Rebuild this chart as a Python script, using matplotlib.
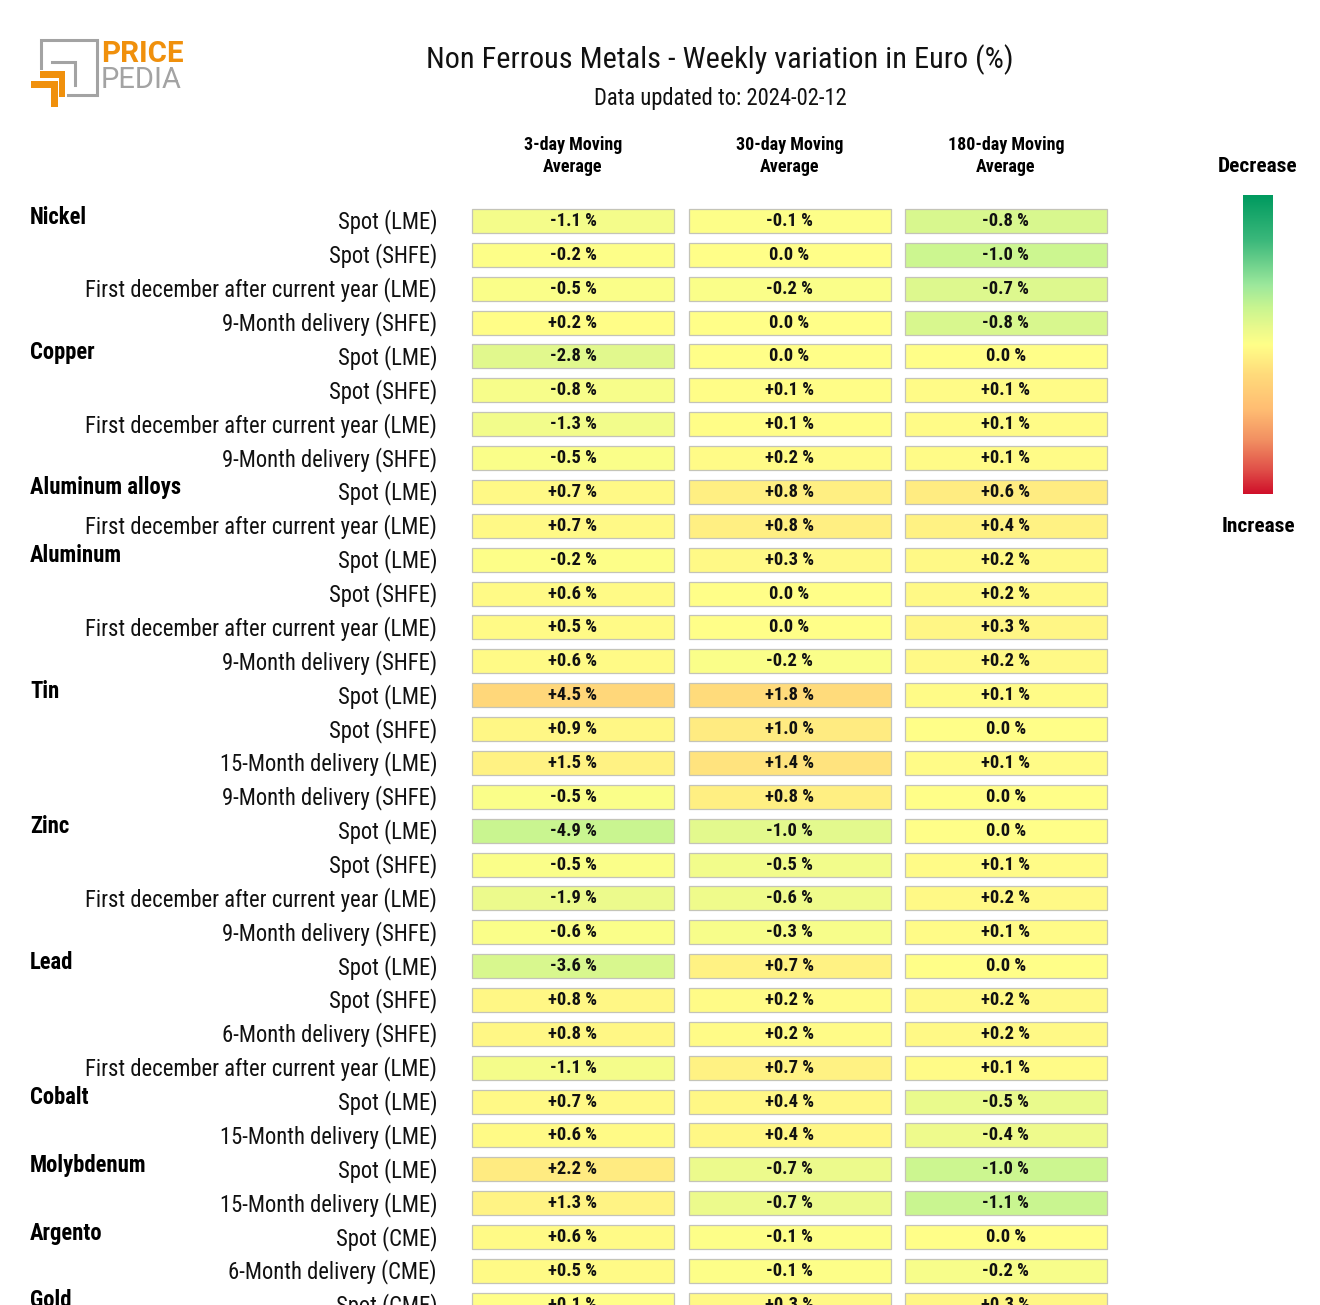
import numpy as np
import matplotlib
matplotlib.use("Agg")
import matplotlib.pyplot as plt
from matplotlib.colors import LinearSegmentedColormap, TwoSlopeNorm
from matplotlib.patches import Rectangle

# Data
groups = ["Nickel", "Copper", "Aluminum alloys", "Aluminum", "Tin", "Zinc",
          "Lead", "Cobalt", "Molybdenum", "Argento", "Gold"]
group_sizes = [4, 4, 2, 4, 4, 4, 4, 2, 2, 2, 1]

first_dec = "First december after current year (LME)"
row_labels = [
    "Spot (LME)", "Spot (SHFE)", first_dec, "9-Month delivery (SHFE)",
    "Spot (LME)", "Spot (SHFE)", first_dec, "9-Month delivery (SHFE)",
    "Spot (LME)", first_dec,
    "Spot (LME)", "Spot (SHFE)", first_dec, "9-Month delivery (SHFE)",
    "Spot (LME)", "Spot (SHFE)", "15-Month delivery (LME)", "9-Month delivery (SHFE)",
    "Spot (LME)", "Spot (SHFE)", first_dec, "9-Month delivery (SHFE)",
    "Spot (LME)", "Spot (SHFE)", "6-Month delivery (SHFE)", first_dec,
    "Spot (LME)", "15-Month delivery (LME)",
    "Spot (LME)", "15-Month delivery (LME)",
    "Spot (CME)", "6-Month delivery (CME)",
    "Spot (CME)",
]

col_titles = ["3-day Moving\nAverage", "30-day Moving\nAverage", "180-day Moving\nAverage"]

ma3 = [-1.1, -0.2, -0.5, 0.2, -2.8, -0.8, -1.3, -0.5, 0.7, 0.7, -0.2, 0.6, 0.5, 0.6,
       4.5, 0.9, 1.5, -0.5, -4.9, -0.5, -1.9, -0.6, -3.6, 0.8, 0.8, -1.1, 0.7, 0.6,
       2.2, 1.3, 0.6, 0.5, 0.1]
ma30 = [-0.1, 0.0, -0.2, 0.0, 0.0, 0.1, 0.1, 0.2, 0.8, 0.8, 0.3, 0.0, 0.0, -0.2,
        1.8, 1.0, 1.4, 0.8, -1.0, -0.5, -0.6, -0.3, 0.7, 0.2, 0.2, 0.7, 0.4, 0.4,
        -0.7, -0.7, -0.1, -0.1, 0.3]
ma180 = [-0.8, -1.0, -0.7, -0.8, 0.0, 0.1, 0.1, 0.1, 0.6, 0.4, 0.2, 0.2, 0.3, 0.2,
         0.1, 0.0, 0.1, 0.0, 0.0, 0.1, 0.2, 0.1, 0.0, 0.2, 0.2, 0.1, -0.5, -0.4,
         -1.0, -1.1, 0.0, -0.2, 0.3]

FONT = ["Roboto Condensed", "Liberation Sans Narrow", "Roboto", "DejaVu Sans"]
plt.rcParams["font.family"] = FONT

# green (decrease) -> yellow -> red (increase)
cmap = LinearSegmentedColormap.from_list("pp", [
    (0.00, "#009a5f"), (0.15, "#3bb87b"), (0.30, "#9ce89c"), (0.375, "#c8f590"),
    (0.45, "#ecfa8c"), (0.50, "#ffff88"), (0.60, "#ffdb7b"), (0.72, "#ffbc72"),
    (0.82, "#f29062"), (0.92, "#e05049"), (1.00, "#d0102a")])


def pt(px):
    return px / 1.389


fig = plt.figure(figsize=(13.2, 13.05), dpi=100)
ax = fig.add_axes([0, 0, 1, 1])
ax.set_xlim(0, 1320)
ax.set_ylim(1305, 0)
ax.axis("off")

# layout
y0, pitch, cell_h, cell_w = 221, 33.87, 24, 202
col_x = [472, 688.5, 905]

# title
ax.text(720, 60, "Non Ferrous Metals - Weekly variation in Euro (%)", fontsize=pt(30.3),
        ha="center", va="center", color="#111111")
ax.text(720, 99, "Data updated to: 2024-02-12", fontsize=pt(22.6),
        ha="center", va="center", color="#111111")

# logo
gray, orange = "#a3a3a3", "#f0900c"
ax.plot([41, 41, 96.5, 96.5, 68], [68, 39.5, 39.5, 95, 95], color=gray, lw=2.2,
        solid_joinstyle="miter")
ax.plot([52, 75, 75], [61.5, 61.5, 85], color=gray, lw=2.2, solid_joinstyle="miter")
ax.add_patch(Rectangle((40, 71), 25, 6.5, color=orange, lw=0))
ax.add_patch(Rectangle((59, 71), 6, 26, color=orange, lw=0))
ax.add_patch(Rectangle((31, 81), 26.5, 6.5, color=orange, lw=0))
ax.add_patch(Rectangle((50.5, 81), 7, 26, color=orange, lw=0))
ax.text(101, 54, "PRICE", fontsize=pt(29.5), fontweight="bold", color=orange,
        ha="left", va="center", family=["Roboto", "DejaVu Sans"])
ax.text(101, 80, "PEDIA", fontsize=pt(29), color=gray,
        ha="left", va="center", family=["Roboto", "DejaVu Sans"])

# column headers
for cx, t in zip(col_x, col_titles):
    ax.text(cx + cell_w / 2, 156, t, fontsize=pt(18), fontweight="bold",
            ha="center", va="center", linespacing=1.22)

# group labels
start = 0
for g, n in zip(groups, group_sizes):
    ax.text(30, y0 + start * pitch - 4, g, fontsize=pt(22.7), fontweight="bold",
            ha="left", va="center")
    start += n

# row labels and cells
cols = [np.array(ma3), np.array(ma30), np.array(ma180)]
for i, lab in enumerate(row_labels):
    yc = y0 + i * pitch
    ax.text(437, yc + 1, lab, fontsize=pt(22.6), ha="right", va="center", color="#111111")
    for cx, vals in zip(col_x, cols):
        m = np.abs(vals).max()
        norm = TwoSlopeNorm(vcenter=0, vmin=-4 * m, vmax=(4 if m > 3 else 5) * m)
        v = vals[i]
        ax.add_patch(Rectangle((cx, yc - cell_h / 2), cell_w, cell_h,
                               facecolor=cmap(norm(v)), edgecolor="#c4c4b8", lw=0.9))
        txt = "0.0 %" if v == 0 else f"{v:+.1f} %"
        ax.text(cx + cell_w / 2, yc, txt, fontsize=pt(18.5), fontweight="bold",
                ha="center", va="center", color="#111111")

# colour legend
grad = np.linspace(0, 1, 256).reshape(-1, 1)
ax.imshow(grad, cmap=cmap, aspect="auto", extent=(1243, 1273, 494, 195),
          interpolation="bilinear")
ax.set_xlim(0, 1320)
ax.set_ylim(1305, 0)
ax.text(1258, 166, "Decrease", fontsize=pt(21.4), fontweight="bold", ha="center", va="center")
ax.text(1258, 526, "Increase", fontsize=pt(21.4), fontweight="bold", ha="center", va="center")

fig.savefig("out.png", dpi=100, facecolor="white")
